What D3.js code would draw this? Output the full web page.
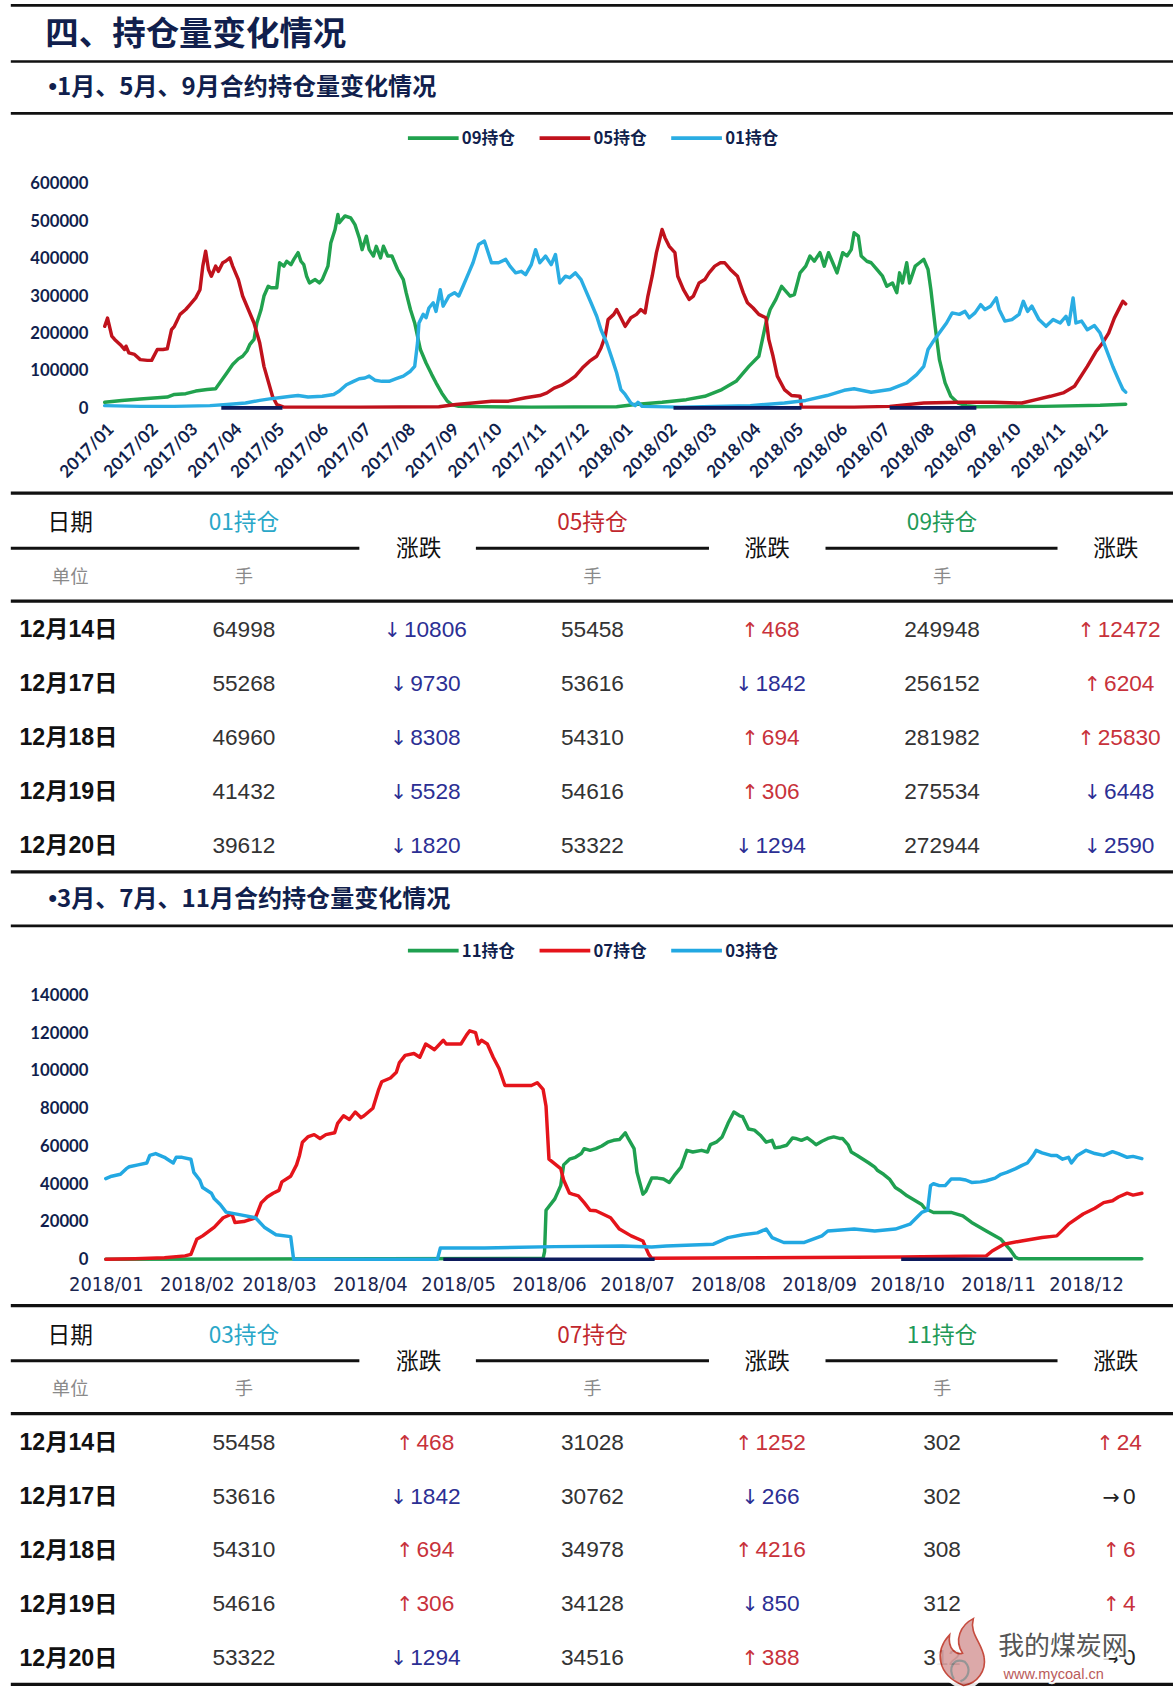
<!DOCTYPE html>
<html><head><meta charset="utf-8">
<script src="https://cdn.jsdelivr.net/npm/d3@7"></script>
<style>
html,body{margin:0;padding:0;background:#fff;}
svg{display:block;}
</style></head><body>
<svg id="c" width="1173" height="1692" viewBox="0 0 1087 1568"></svg>
<script>
// ---------------- DATA ----------------
// Chart 1: days since 2017-01-01, open interest (lots)
const chart1Start = "2017-01-01";
const xTicks1 = ["2017/01","2017/02","2017/03","2017/04","2017/05","2017/06","2017/07","2017/08","2017/09","2017/10","2017/11","2017/12","2018/01","2018/02","2018/03","2018/04","2018/05","2018/06","2018/07","2018/08","2018/09","2018/10","2018/11","2018/12"];
const yTicks1 = [0,100000,200000,300000,400000,500000,600000];
const legend1 = ["09持仓","05持仓","01持仓"];

const s09a = [[0,15000],[12,20000],[25,24000],[37,27000],[44,29000],[49,36000],[57,38000],[64,45000],[72,49000],[78,51000],[81,67000],[86,94000],[90,116000],[94,131000],[97,138000],[100,152000],[102,169000],[105,183000],[107,227000],[110,263000],[112,299000],[115,325000],[117,321000],[121,321000],[123,388000],[126,379000],[128,392000],[131,383000],[133,397000],[136,415000],[138,392000],[140,383000],[142,352000],[144,334000],[148,343000],[151,334000],[153,343000],[157,379000],[159,441000],[162,477000],[164,517000],[165,495000],[169,513000],[173,508000],[176,490000],[179,455000],[181,423000],[184,459000],[186,423000],[189,406000],[191,432000],[194,401000],[196,432000],[199,406000],[202,406000],[206,370000],[210,343000],[212,308000],[215,263000],[218,227000],[222,156000],[226,120000],[230,89000],[233,67000],[237,40000],[241,18000],[244,9000],[249,4000],[300,2000],[360,3000],[373,9000],[392,15000],[409,22000],[422,31000],[434,49000],[444,71000],[453,111000],[460,138000],[465,227000],[468,263000],[472,290000],[476,325000],[478,316000],[482,299000],[485,303000],[489,361000],[493,379000],[496,406000],[499,392000],[503,415000],[506,379000],[509,415000],[512,388000],[515,361000],[519,415000],[522,406000],[525,423000],[527,468000],[530,459000],[532,406000],[536,392000],[539,388000],[543,370000],[547,352000],[550,325000],[554,334000],[557,308000],[559,361000],[561,334000],[564,388000],[566,334000],[570,379000],[573,388000],[576,397000],[579,370000],[581,316000],[584,218000],[587,129000],[591,67000],[595,31000],[600,13000],[606,6000],[613,3000],[660,4000],[700,7000],[718,10000]];

const s05a = [[0,218000],[2,240000],[5,192000],[7,183000],[11,169000],[14,156000],[15,165000],[17,147000],[21,143000],[25,129000],[30,127000],[33,127000],[37,156000],[41,156000],[44,158000],[47,209000],[49,218000],[53,250000],[57,263000],[60,276000],[64,294000],[67,316000],[69,379000],[71,419000],[73,370000],[75,352000],[78,379000],[80,365000],[83,388000],[85,392000],[88,401000],[90,379000],[94,343000],[97,299000],[101,263000],[105,227000],[109,174000],[112,111000],[116,58000],[118,31000],[121,9000],[126,2000],[180,2000],[235,3000],[247,9000],[259,13000],[272,18000],[284,18000],[296,27000],[306,33000],[311,40000],[316,53000],[321,60000],[326,71000],[331,85000],[336,107000],[341,125000],[346,138000],[349,160000],[352,192000],[354,236000],[358,250000],[360,263000],[363,241000],[366,218000],[370,241000],[374,250000],[377,263000],[380,254000],[382,299000],[385,352000],[388,415000],[392,477000],[394,455000],[397,432000],[401,415000],[403,352000],[407,316000],[411,290000],[414,299000],[418,334000],[422,343000],[425,361000],[429,379000],[433,388000],[436,388000],[440,370000],[445,352000],[449,308000],[452,281000],[456,267000],[460,250000],[465,241000],[467,183000],[470,138000],[473,85000],[478,49000],[483,33000],[489,31000],[490,2000],[527,2000],[552,4000],[576,13000],[601,15000],[625,15000],[645,13000],[655,22000],[665,31000],[674,40000],[682,58000],[691,111000],[697,150000],[702,175000],[706,200000],[710,240000],[714,270000],[716,285000],[718,278000]];

const s01a = [[0,6000],[25,4000],[49,4000],[74,6000],[86,9000],[99,13000],[109,20000],[116,24000],[124,28000],[131,31000],[136,33000],[143,29000],[153,31000],[161,36000],[165,45000],[170,62000],[175,71000],[179,78000],[183,80000],[186,85000],[190,74000],[195,71000],[200,71000],[205,78000],[210,85000],[215,98000],[218,111000],[220,174000],[221,227000],[224,250000],[226,241000],[228,267000],[231,281000],[233,258000],[236,316000],[238,272000],[242,299000],[246,308000],[249,299000],[252,325000],[256,361000],[259,388000],[263,437000],[267,446000],[269,423000],[272,388000],[277,388000],[282,397000],[285,379000],[289,361000],[293,365000],[296,356000],[300,383000],[303,423000],[306,388000],[310,406000],[314,383000],[317,410000],[320,334000],[324,352000],[327,348000],[331,361000],[335,343000],[338,316000],[342,281000],[346,245000],[349,209000],[353,174000],[357,129000],[360,94000],[363,49000],[366,36000],[370,13000],[373,6000],[375,15000],[378,4000],[405,2000],[429,4000],[454,6000],[478,13000],[493,20000],[508,33000],[520,47000],[527,51000],[539,42000],[552,49000],[564,67000],[571,89000],[576,111000],[579,156000],[582,174000],[587,201000],[592,227000],[596,254000],[601,250000],[605,258000],[608,241000],[612,254000],[616,276000],[619,263000],[623,272000],[627,294000],[629,263000],[633,232000],[638,236000],[643,250000],[646,285000],[649,258000],[652,272000],[657,236000],[662,218000],[667,236000],[672,227000],[676,245000],[678,223000],[681,294000],[683,227000],[687,232000],[691,209000],[696,220000],[700,200000],[705,150000],[709,110000],[713,75000],[716,50000],[718,42000]];

const navyA = [[82,125],[400,490],[552,613]];

// Chart 2: days since 2018-01-01
const chart2Start = "2018-01-01";
const xTicks2 = ["2018/01","2018/02","2018/03","2018/04","2018/05","2018/06","2018/07","2018/08","2018/09","2018/10","2018/11","2018/12"];
const yTicks2 = [0,20000,40000,60000,80000,100000,120000,140000];
const legend2 = ["11持仓","07持仓","03持仓"];

const s11b = [[0,0],[149,500],[149.5,4000],[150,26000],[153,32000],[155,39000],[156,50000],[158,53000],[160,54000],[162,56000],[163,58600],[165,57700],[167,58600],[169,60000],[171,62000],[173,63000],[175,63400],[177,67000],[178,64000],[180,58600],[181,46000],[183,34500],[184,36000],[186,43000],[188,43000],[190,42500],[192,40700],[194,45000],[196,48800],[198,57700],[200,56800],[203,57700],[205,56800],[206,60700],[208,62000],[210,64800],[212,72000],[214,78000],[216,76000],[217,75500],[219,69000],[221,68400],[223,65700],[225,62000],[227,63000],[228,59000],[230,59500],[232,60400],[234,64300],[235,64000],[237,63000],[239,64300],[241,62000],[242,60700],[244,62500],[246,64000],[248,64800],[250,64000],[251,64000],[253,60400],[254,56800],[256,55000],[258,53000],[260,51000],[262,48800],[263,47000],[265,45000],[267,42500],[269,38000],[271,36000],[273,33600],[275,31800],[278,29000],[279,27000],[282,24800],[288,24800],[292,23000],[295,19500],[300,15000],[305,10600],[308,5300],[310,1000],[311,300],[353,312]];

const s07b = [[0,0],[10,300],[20,800],[27,1800],[29,2600],[31,10600],[33,12400],[37,17000],[40,22000],[43,24000],[44,19500],[47,20000],[51,22000],[53,30000],[55,33000],[57,35000],[59,36500],[60,41000],[63,44000],[65,50000],[66,55000],[67,62000],[69,65000],[71,66000],[73,64000],[75,66000],[78,67000],[79,72000],[81,76000],[83,74000],[85,78000],[87,75000],[88,76000],[91,80000],[93,90000],[94,94000],[97,96000],[99,99000],[100,104000],[102,108000],[105,109000],[107,107000],[109,114000],[111,112000],[112,111000],[115,116000],[116,114000],[118,114000],[121,114000],[123,119000],[124,121000],[126,120000],[127,114000],[128,116000],[130,114000],[132,107000],[134,101000],[136,92000],[139,92000],[142,92000],[145,92000],[147,93500],[149,90000],[150,81000],[151,53000],[153,50500],[155,48000],[156,42000],[158,35000],[159,34500],[161,33600],[163,30000],[165,26000],[167,25700],[172,22000],[175,16000],[179,12400],[183,9700],[185,2600],[186,500],[271,1200],[300,1800],[302,4400],[306,8000],[312,9700],[319,11500],[324,12400],[328,18600],[333,24000],[337,27000],[340,30000],[343,31000],[345,33000],[348,35000],[350,34000],[353,35000]];

const s03b = [[0,42700],[2,44000],[5,45000],[7,48000],[8,49000],[11,50000],[14,51000],[15,55000],[17,56000],[20,54000],[21,53000],[23,51000],[24,54000],[26,54000],[29,53000],[30,46000],[32,42000],[33,38000],[36,35000],[37,32000],[39,29000],[41,25000],[46,23500],[51,22000],[54,17000],[58,13000],[63,12000],[64,0],[113,0],[114,6000],[129,6000],[153,6700],[176,7000],[186,6500],[191,7000],[200,7600],[207,8000],[212,11500],[217,13000],[222,14000],[225,16000],[227,11500],[231,8900],[238,8900],[244,12400],[246,15000],[255,16000],[262,15000],[269,16000],[274,18600],[278,24800],[280,26000],[281,39000],[282,40000],[284,39000],[286,39000],[288,42500],[291,42500],[293,42000],[295,40700],[298,41000],[300,41600],[303,43000],[305,45000],[307,46000],[310,48000],[312,49600],[314,51000],[316,55000],[317,57700],[319,56400],[322,55000],[324,55000],[326,53000],[328,54000],[329,51000],[331,55000],[333,56800],[334,57700],[337,56000],[340,55000],[343,57000],[345,56000],[348,54000],[350,54500],[353,53300]];

const navyB = [[115,187],[271,309]];

// Tables
const tableDates = ["12月14日","12月17日","12月18日","12月19日","12月20日"];
const table1Heads = ["01持仓","05持仓","09持仓"];
const t1Hold01 = [64998,55268,46960,41432,39612];
const t1Chg01  = [-10806,-9730,-8308,-5528,-1820];
const t1Hold05 = [55458,53616,54310,54616,53322];
const t1Chg05  = [468,-1842,694,306,-1294];
const t1Hold09 = [249948,256152,281982,275534,272944];
const t1Chg09  = [12472,6204,25830,-6448,-2590];

const table2Heads = ["03持仓","07持仓","11持仓"];
const t2Hold03 = [55458,53616,54310,54616,53322];
const t2Chg03  = [468,-1842,694,306,-1294];
const t2Hold07 = [31028,30762,34978,34128,34516];
const t2Chg07  = [1252,-266,4216,-850,388];
const t2Hold11 = [302,302,308,312,312];
const t2Chg11  = [24,0,6,4,0];

// ---------------- DRAW ----------------
const svg = d3.select("#c");
const CJK = "'Noto Sans CJK SC','Noto Sans',sans-serif";
const NUM = "'Liberation Sans','Noto Sans CJK SC',sans-serif";
const NAVY = "#111f4d";

function hline(x1,x2,y,w){
  svg.append("line").attr("x1",x1).attr("x2",x2).attr("y1",y).attr("y2",y)
    .attr("stroke","#111").attr("stroke-width",w);
}
function txt(x,y,s,o){
  const t = svg.append("text").attr("x",x).attr("y",y).attr("dy","0.35em").text(s)
    .attr("font-family",o.f||CJK).attr("font-size",o.s||20).attr("fill",o.c||"#111")
    .attr("text-anchor",o.a||"start").attr("font-weight",o.w||"normal");
  return t;
}
function subtitle(x,y,s){
  const t = svg.append("text").attr("x",x).attr("y",y).attr("dy","0.35em")
    .attr("font-family",CJK).attr("font-size",22.3).attr("font-weight","bold").attr("fill",NAVY);
  t.append("tspan").attr("font-family","'Liberation Sans',sans-serif").text("•");
  t.append("tspan").text(s);
}

// header lines and titles
hline(10,1087,5,2.5);
txt(42,31,"四、持仓量变化情况",{s:31,w:"bold",c:NAVY});
hline(10,1087,57,2.5);
subtitle(45,80,"1月、5月、9月合约持仓量变化情况");
hline(10,1087,105,2.5);

const parseM = d3.timeParse("%Y/%m");
const parseD = d3.timeParse("%Y-%m-%d");

function drawLegend(y, names, colors){
  const xs=[378,500,622];
  names.forEach((n,i)=>{
    svg.append("line").attr("x1",xs[i]).attr("x2",xs[i]+47).attr("y1",y).attr("y2",y)
      .attr("stroke",colors[i]).attr("stroke-width",3.5);
    txt(xs[i]+50,y,n,{s:15.5,w:"bold",c:NAVY});
  });
}

function drawSeries(series, colors, x, y, start, navy){
  const base = parseD(start);
  const toDate = d => new Date(base.getTime() + d*864e5);
  const line = d3.line().x(d=>x(toDate(d[0]))).y(d=>y(d[1]));
  series.forEach((s,i)=>{
    svg.append("path").datum(s).attr("d",line).attr("fill","none")
      .attr("stroke",colors[i]).attr("stroke-width",3.2)
      .attr("stroke-linejoin","round").attr("stroke-linecap","round");
  });
  navy.forEach(seg=>{
    svg.append("path").datum([[seg[0],0],[seg[1],0]]).attr("d",line)
      .attr("fill","none").attr("stroke","#0d1a5c").attr("stroke-width",3.4);
  });
}

function yAxis(y, ticks){
  const g = svg.append("g").attr("transform","translate(82,0)")
    .call(d3.axisLeft(y).tickValues(ticks).tickSize(0).tickPadding(0).tickFormat(d3.format("d")));
  g.select(".domain").remove();
  g.selectAll("text").attr("font-family","Lato,'Open Sans',sans-serif")
    .attr("font-weight","bold").attr("font-size",15.5).attr("fill",NAVY);
}

// ---- Chart 1 ----
const col1 = ["#21a24e","#c0121c","#2aade3"];
drawLegend(128, legend1, col1);
const x1 = d3.scaleTime().domain([parseD("2017-01-01"),parseD("2019-01-01")]).range([97,1059]);
const y1 = d3.scaleLinear().domain([0,600000]).range([378,170]);
yAxis(y1, yTicks1);
{
  const g = svg.append("g").attr("transform","translate(0,378)")
    .call(d3.axisBottom(x1).tickValues(xTicks1.map(parseM)).tickSize(0).tickFormat(d3.timeFormat("%Y/%m")));
  g.select(".domain").remove();
  g.selectAll("text").attr("font-family","Lato,'Open Sans',sans-serif")
    .attr("font-weight","bold").attr("font-size",16).attr("fill",NAVY)
    .attr("text-anchor","end").attr("x",0).attr("y",0).attr("dy","0.35em")
    .attr("transform","translate(5,17) rotate(-45)");
}
drawSeries([s09a,s05a,s01a], col1, x1, y1, chart1Start, navyA);

// ---- Tables ----
function chgText(sel, v){
  const up = v>0, zero = v===0;
  const c = zero ? "#222" : (up ? "#c8323b" : "#2c2f94");
  sel.attr("fill",c);
  sel.append("tspan").attr("font-family","'DejaVu Sans',sans-serif").attr("font-size",19)
     .text(zero ? "→" : (up ? "↑" : "↓"));
  sel.append("tspan").attr("dx",3).text(Math.abs(v));
}
function drawTable(y0, heads, headColors, holds, chgs){
  hline(10,1087,y0,3);
  txt(65,y0+27,"日期",{s:21,a:"middle"});
  const vc=[226,549,873], cc=[394,714,1037], zc=[388,711,1034];
  const segs=[[10,333],[441,657],[765,980]];
  heads.forEach((h,i)=>{
    txt(vc[i],y0+27,h,{s:21,a:"middle",c:headColors[i]});
    hline(segs[i][0],segs[i][1],y0+51,2.8);
    txt(zc[i],y0+51,"涨跌",{s:21,a:"middle"});
    txt(vc[i],y0+77,"手",{s:17,a:"middle",c:"#8a8a8a"});
  });
  txt(65,y0+77,"单位",{s:17,a:"middle",c:"#8a8a8a"});
  hline(10,1087,y0+100,3);
  tableDates.forEach((d,r)=>{
    const yy = y0+126+r*50;
    txt(18,yy,d,{s:21.5,w:"bold",f:NUM,c:"#111"});
    for(let i=0;i<3;i++){
      txt(vc[i],yy,holds[i][r],{s:21,a:"middle",f:NUM,c:"#333"});
      const t = svg.append("text").attr("x",cc[i]).attr("y",yy).attr("dy","0.35em")
        .attr("font-family",NUM).attr("font-size",21).attr("text-anchor","middle");
      chgText(t, chgs[i][r]);
    }
  });
  hline(10,1087,y0+351,3);
}
const headCols = ["#2aa7c8","#c1272d","#1f9a58"];
drawTable(457, table1Heads, headCols, [t1Hold01,t1Hold05,t1Hold09], [t1Chg01,t1Chg05,t1Chg09]);

// ---- Section 2 ----
subtitle(45,833,"3月、7月、11月合约持仓量变化情况");
hline(10,1087,858,2.5);
const col2 = ["#1fa050","#e5141b","#22a8e2"];
drawLegend(881, legend2, col2);
const x2 = d3.scaleTime().domain([parseD("2018-01-01"),parseD("2019-01-01")]).range([98,1090.8]);
const y2 = d3.scaleLinear().domain([0,140000]).range([1167,922]);
yAxis(y2, yTicks2);
{
  const g = svg.append("g").attr("transform","translate(0,1167)")
    .call(d3.axisBottom(x2).tickValues(xTicks2.map(parseM)).tickSize(0).tickFormat(d3.timeFormat("%Y/%m")));
  g.select(".domain").remove();
  g.selectAll("text").attr("font-family","'Liberation Sans Narrow','DejaVu Sans Condensed',sans-serif")
    .attr("font-size",18.5).attr("fill","#1a2550").attr("y",23).attr("dy","0.35em");
}
drawSeries([s11b,s07b,s03b], col2, x2, y2, chart2Start, navyB);

drawTable(1210, table2Heads, headCols, [t2Hold03,t2Hold07,t2Hold11], [t2Chg03,t2Chg07,t2Chg11]);

// ---- Watermark (site mark overlaid on the last row, as in the source) ----
{
  const g = svg.append("g").attr("opacity",0.9);
  const flame = "M893,1562 C868,1552 866,1530 880,1515 C878,1528 886,1534 892,1532 C884,1520 890,1506 902,1500 C898,1514 910,1522 912,1536 C914,1548 906,1560 893,1562 Z";
  g.append("path").attr("d",flame).attr("fill","#fff").attr("stroke","#fff").attr("stroke-width",8);
  g.append("path").attr("d",flame).attr("fill","#d9a0a0").attr("stroke","#c0392b").attr("stroke-width",1.5);
  g.append("path").attr("d","M884,1556 C878,1545 884,1536 894,1540 C900,1546 898,1555 890,1558")
    .attr("fill","none").attr("stroke","#8a8a8a").attr("stroke-width",2);
  g.append("text").attr("x",925).attr("y",1525).attr("dy","0.35em").text("我的煤炭网")
    .attr("font-family",CJK).attr("font-size",24).attr("fill","#444")
    .attr("stroke","#fff").attr("stroke-width",5).attr("paint-order","stroke");
  g.append("text").attr("x",930).attr("y",1551).attr("dy","0.35em").text("www.mycoal.cn")
    .attr("font-family",NUM).attr("font-size",13.5).attr("fill","#b34a4a")
    .attr("stroke","#fff").attr("stroke-width",4).attr("paint-order","stroke");
}
</script></body></html>
